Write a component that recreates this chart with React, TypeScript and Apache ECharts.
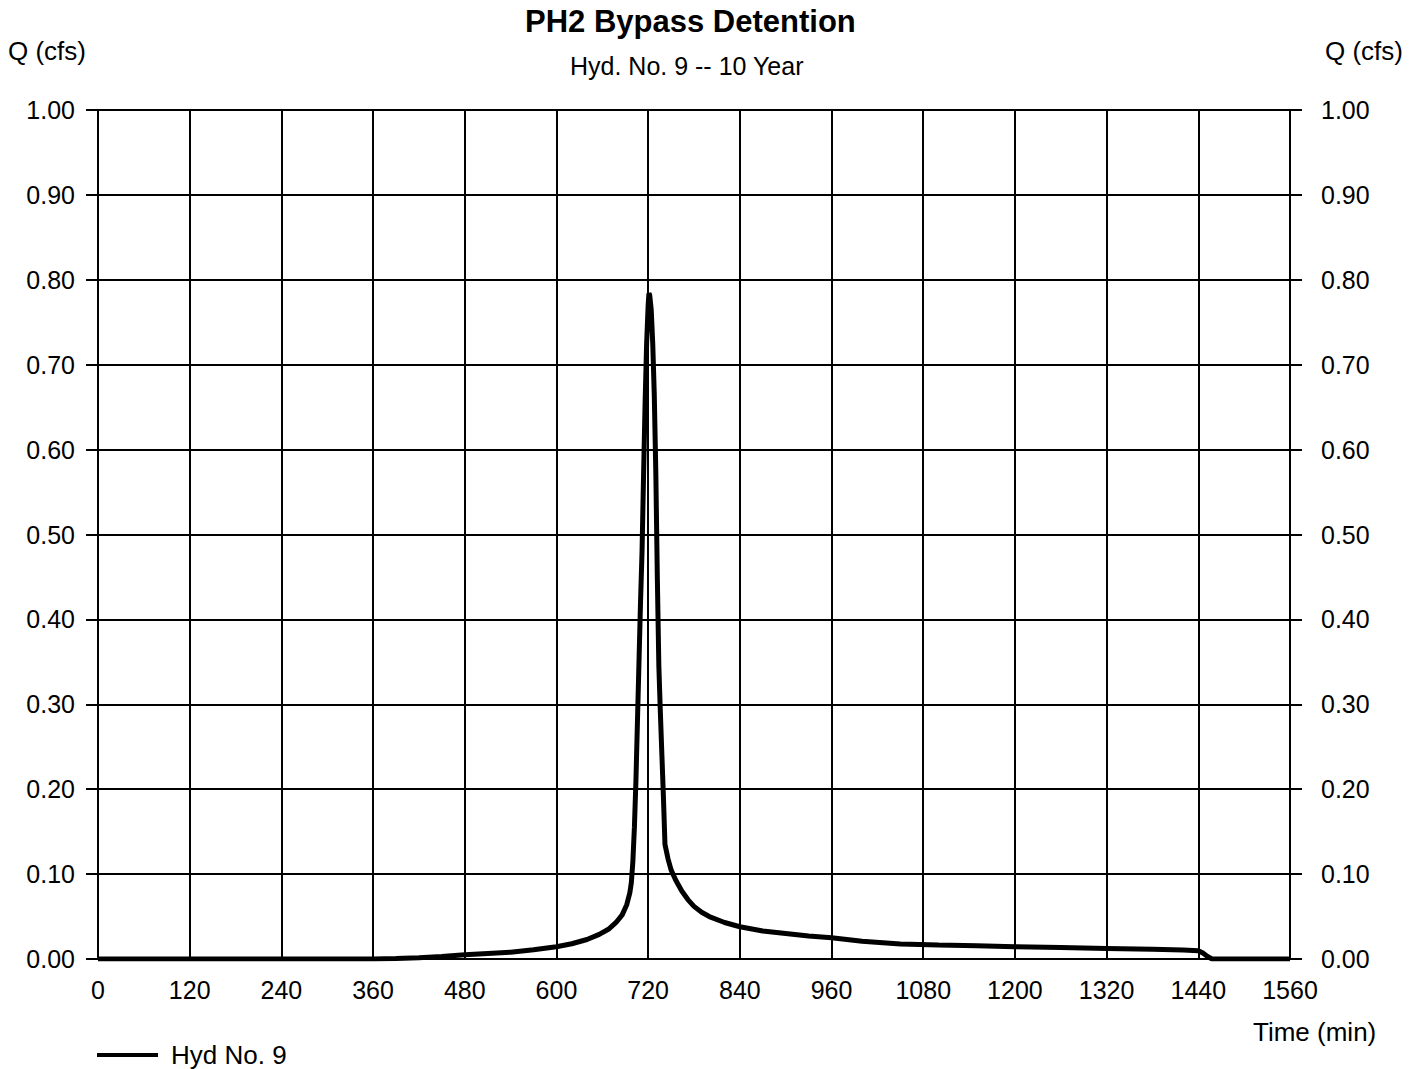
import React, { useEffect, useRef } from "react";
import * as echarts from "echarts";

const TITLE = "PH2 Bypass Detention";
const SUBTITLE = "Hyd. No. 9 -- 10 Year";
const SERIES_NAME = "Hyd No. 9";
const X_TICKS = [0, 120, 240, 360, 480, 600, 720, 840, 960, 1080, 1200, 1320, 1440, 1560];
const Y_TICKS = [0, 0.1, 0.2, 0.3, 0.4, 0.5, 0.6, 0.7, 0.8, 0.9, 1.0];

const TIMES = [
  0, 60, 120, 180, 240, 300, 360, 390, 420, 450, 480, 510, 540, 570, 600, 620, 640, 656, 668, 678,
  686, 692, 696, 698, 700, 702, 704, 706, 708, 710, 712, 714, 716, 718, 720, 721, 722, 724, 726,
  728, 730, 732, 734, 736, 738, 740, 742, 746, 750, 756, 764, 772, 780, 790, 800, 820, 840, 870,
  900, 930, 960, 1000, 1050, 1100, 1150, 1200, 1260, 1320, 1380, 1420, 1440, 1446, 1452, 1458,
  1500, 1560,
];
const FLOWS = [
  0, 0, 0, 0, 0, 0, 0, 0.0005, 0.0015, 0.003, 0.005, 0.0065, 0.008, 0.011, 0.0145, 0.018, 0.023,
  0.029, 0.035, 0.043, 0.052, 0.064, 0.078, 0.09, 0.115, 0.155, 0.21, 0.28, 0.35, 0.42, 0.48, 0.57,
  0.655, 0.725, 0.77, 0.784, 0.782, 0.765, 0.725, 0.665, 0.575, 0.45, 0.345, 0.29, 0.24, 0.19,
  0.135, 0.118, 0.105, 0.093, 0.08, 0.07, 0.062, 0.055, 0.05, 0.043, 0.038, 0.033, 0.03, 0.027,
  0.025, 0.021, 0.0178, 0.0165, 0.0155, 0.0145, 0.0135, 0.0125, 0.0115, 0.0105, 0.0098, 0.007,
  0.003, 0, 0, 0,
];

const FONT = "'Liberation Sans', Arial, sans-serif";

export default function App() {
  const ref = useRef<HTMLDivElement>(null);
  useEffect(() => {
    if (!ref.current) return;
    const chart = echarts.init(ref.current, undefined, { renderer: "svg" });
    const yMin = Y_TICKS[0];
    const yMax = Y_TICKS[Y_TICKS.length - 1];
    const xMin = X_TICKS[0];
    const xMax = X_TICKS[X_TICKS.length - 1];
    const gridLine = { show: true, lineStyle: { color: "#000", width: 2 } };
    const yAxisBase = {
      type: "value",
      min: yMin,
      max: yMax,
      interval: 0.1,
      name: "Q (cfs)",
      nameLocation: "end",
      nameGap: 46,
      axisLine: { show: true, lineStyle: { color: "#000", width: 2 } },
      axisTick: { show: true, inside: false, length: 12, lineStyle: { color: "#000", width: 2 } },
      splitLine: gridLine,
    };
    chart.setOption({
      animation: false,
      backgroundColor: "#fff",
      textStyle: { fontFamily: FONT },
      title: [
        {
          text: TITLE,
          left: 525,
          top: 6,
          padding: 0,
          textStyle: { fontFamily: FONT, fontSize: 31, fontWeight: "bold", color: "#000" },
        },
        {
          text: SUBTITLE,
          left: 570,
          top: 53,
          padding: 0,
          textStyle: { fontFamily: FONT, fontSize: 25, fontWeight: "normal", color: "#000" },
        },
      ],
      legend: {
        left: 97,
        top: 1042,
        padding: 0,
        icon: "rect",
        itemWidth: 61,
        itemHeight: 4,
        data: [SERIES_NAME],
        textStyle: { fontFamily: FONT, fontSize: 26, color: "#000", padding: [0, 0, 0, 8] },
      },
      graphic: [
        {
          type: "text",
          left: 1253,
          top: 1019,
          style: { text: "Time (min)", font: `26px ${FONT}`, fill: "#000" },
        },
      ],
      grid: { left: 98, right: 130, top: 110, bottom: 110, containLabel: false },
      xAxis: {
        type: "value",
        min: xMin,
        max: xMax,
        interval: 120,
        axisLine: { show: true, onZero: false, lineStyle: { color: "#000", width: 2 } },
        axisTick: { show: false },
        axisLabel: {
          fontFamily: FONT,
          fontSize: 25,
          color: "#000",
          margin: 18,
          formatter: (v: number) => String(v),
        },
        splitLine: gridLine,
      },
      yAxis: [
        {
          ...yAxisBase,
          position: "left",
          nameTextStyle: { fontFamily: FONT, fontSize: 26, color: "#000", align: "right", padding: [0, 12, 0, 0] },
          axisLabel: {
            fontFamily: FONT,
            fontSize: 25,
            color: "#000",
            margin: 23,
            formatter: (v: number) => v.toFixed(2),
          },
        },
        {
          ...yAxisBase,
          position: "right",
          nameTextStyle: { fontFamily: FONT, fontSize: 26, color: "#000", align: "left", padding: [0, 0, 0, 35] },
          axisLabel: {
            fontFamily: FONT,
            fontSize: 25,
            color: "#000",
            margin: 31,
            formatter: (v: number) => v.toFixed(2),
          },
        },
      ],
      series: [
        {
          name: SERIES_NAME,
          type: "line",
          yAxisIndex: 0,
          data: TIMES.map((t, i) => [t, FLOWS[i]]),
          showSymbol: false,
          symbol: "none",
          smooth: false,
          color: "#000",
          lineStyle: { color: "#000", width: 5 },
        },
      ],
    });
    return () => chart.dispose();
  }, []);
  return (
    <div
      ref={ref}
      style={{ position: "absolute", left: 0, top: 0, width: 1420, height: 1069, background: "#fff" }}
    />
  );
}
